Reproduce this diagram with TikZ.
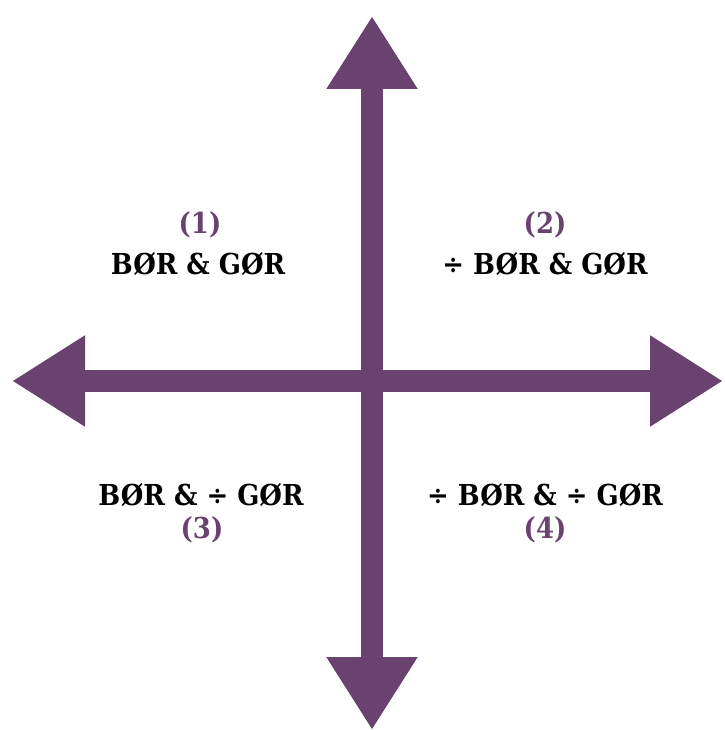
\documentclass[tikz,border=0pt]{standalone}
\usepackage{fontspec}
\setmainfont{DejaVu Serif Condensed}
\usetikzlibrary{arrows.meta}
\definecolor{axispurple}{HTML}{69426F}

\begin{document}
\begin{tikzpicture}[x=0.1mm,y=-0.1mm,
	axis/.style={draw=axispurple,line width=2.2mm,-{Triangle[length=7.3mm,width=8.6mm]}},
	quad/.style={font=\fontsize{8.2}{10}\selectfont\bfseries,text=black,inner sep=0pt},
	num/.style={font=\fontsize{8.2}{10}\selectfont\bfseries,text=axispurple,inner sep=0pt}]
	\useasboundingbox (0,0) rectangle (724,731);

	\coordinate (c) at (372,381);
	\coordinate (top) at (372,16);
	\coordinate (bottom) at (372,730);
	\coordinate (left) at (12,381);
	\coordinate (right) at (723,381);

	\draw[axis] (c) -- (top);
	\draw[axis] (c) -- (bottom);
	\draw[axis] (c) -- (left);
	\draw[axis] (c) -- (right);

	\node[num] (n1) at (200,225) {(1)};
	\node[quad] (q1) at (198,264) {BØR \& GØR};
	\node[num] (n2) at (545,225) {(2)};
	\node[quad] (q2) at (545,264) {÷ BØR \& GØR};
	\node[quad] (q3) at (201,495) {BØR \& ÷ GØR};
	\node[num] (n3) at (202,530) {(3)};
	\node[quad] (q4) at (545,495) {÷ BØR \& ÷ GØR};
	\node[num] (n4) at (545,530) {(4)};
\end{tikzpicture}
\end{document}
